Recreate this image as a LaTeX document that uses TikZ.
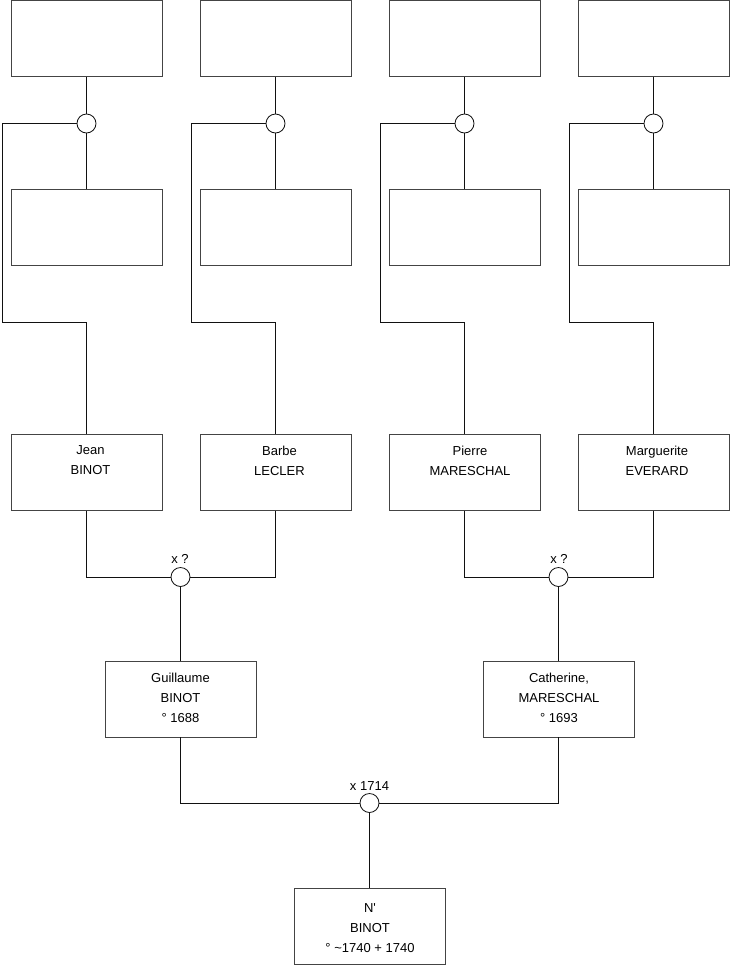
\documentclass[tikz,border=0pt]{standalone}
\usepackage{fontspec}
\setmainfont{Liberation Sans}
\newfontfamily\plainsans{Liberation Sans}
\definecolor{boxc}{HTML}{444444}
\definecolor{linec}{HTML}{111111}
\begin{document}
\begin{tikzpicture}[x=1pt,y=-1pt,
  box/.style={draw=boxc, line width=0.9pt, fill=white, minimum width=151pt, minimum height=76pt, inner sep=0pt},
  ring/.style={circle, draw=linec, line width=0.8pt, fill=white, minimum size=19pt, inner sep=0pt},
  conn/.style={draw=linec, line width=0.8pt},
  txt/.style={inner sep=0pt, anchor=north, align=center, font=\fontsize{13}{20}\selectfont},
  lbl/.style={inner sep=0pt, anchor=base, font=\fontsize{13}{16}\selectfont}]
\useasboundingbox (0,0) rectangle (740,975);
% top row
\node[box] (t1) at (86.5,38.5) {};
\node[box] (t2) at (275.5,38.5) {};
\node[box] (t3) at (464.5,38.5) {};
\node[box] (t4) at (653.5,38.5) {};
% second row
\node[box] (m1) at (86.5,227) {};
\node[box] (m2) at (275.5,227) {};
\node[box] (m3) at (464.5,227) {};
\node[box] (m4) at (653.5,227) {};
% parents
\node[box] (p1) at (86.5,472.5) {};
\node[box] (p2) at (275.5,472.5) {};
\node[box] (p3) at (464.5,472.5) {};
\node[box] (p4) at (653.5,472.5) {};
% children
\node[box] (g) at (180.5,699) {};
\node[box] (c) at (558.5,699) {};
\node[box] (n) at (369.5,926) {};
% texts
\node[txt] (p1t) at (90.5,445.5) {Jean\\BINOT};
\node[txt] (p2t) at (279.5,445.5) {Barbe\\LECLER};
\node[txt] (p3t) at (470,445.5) {Pierre\\MARESCHAL};
\node[txt] (p4t) at (657,445.5) {Marguerite\\EVERARD};
\node[txt] (gt) at (180.5,672.5) {Guillaume\\BINOT\\° 1688};
\node[txt] (ct) at (559,672.5) {Catherine,\\MARESCHAL\\° 1693};
\node[txt] (nt) at (370,903) {N{\plainsans\char"0027}\\BINOT\\° \textasciitilde1740 + 1740};
% junction coordinates
\coordinate (b1) at (2,322);
\coordinate (b2) at (191,322);
\coordinate (b3) at (380,322);
\coordinate (b4) at (569,322);
% top rings and connectors
\foreach \i/\x in {1/86.5,2/275.5,3/464.5,4/653.5}{
  \node[ring] (r\i) at (\x,123.5) {};
}
\foreach \i in {1,2,3,4}{
  \draw[conn] (t\i.south) -- (r\i.north);
  \draw[conn] (r\i.south) -- (m\i.north);
  \draw[conn] (r\i.west) -| (b\i) -| (p\i.north);
}
% marriages
\node[ring] (mg1) at (180.5,577) {};
\node[ring] (mg2) at (558.5,577) {};
\node[ring] (mf) at (369.5,803) {};
\draw[conn] (p1.south) |- (mg1.west);
\draw[conn] (p2.south) |- (mg1.east);
\draw[conn] (mg1.south) -- (g.north);
\draw[conn] (p3.south) |- (mg2.west);
\draw[conn] (p4.south) |- (mg2.east);
\draw[conn] (mg2.south) -- (c.north);
\draw[conn] (g.south) |- (mf.west);
\draw[conn] (c.south) |- (mf.east);
\draw[conn] (mf.south) -- (n.north);
% labels
\node[lbl] (l1) at (180,563.5) {x ?};
\node[lbl] (l2) at (559,563.5) {x ?};
\node[lbl] (l3) at (369.5,790.5) {x 1714};
\end{tikzpicture}
\end{document}
